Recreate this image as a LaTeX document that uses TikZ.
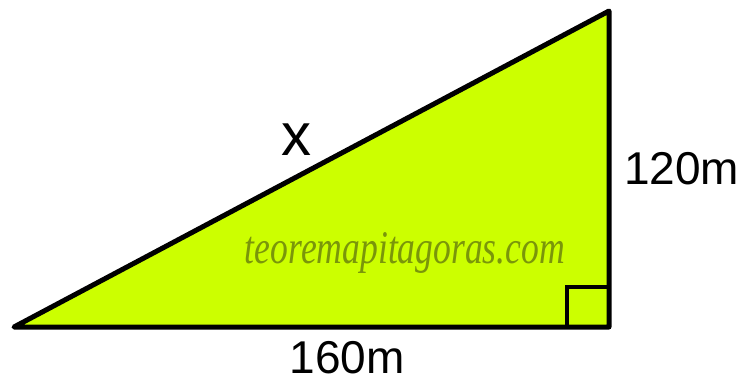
\documentclass[tikz,border=0pt]{standalone}
\usepackage{fontspec}
\setmainfont{Liberation Sans}
\newfontfamily\markfont{Liberation Serif}
\usepackage{xcolor}
\usetikzlibrary{positioning,calc}
\definecolor{limefill}{RGB}{204,255,0}
\definecolor{olivemark}{RGB}{122,150,10}

\begin{document}
\begin{tikzpicture}[
  x=1pt, y=1pt,
  side/.style={draw=black, line width=5pt, line join=round},
  lbl/.style={inner sep=0pt, font=\fontsize{46}{50}\selectfont},
  sitemark/.style={inner sep=0pt, text=olivemark},
]
  \useasboundingbox (0,0) rectangle (744,383);
  \coordinate (A) at (14,56);
  \coordinate (B) at (609,56);
  \coordinate (C) at (609,372);

  \fill[limefill] (A) -- (B) -- (C) -- cycle;
  \node[sitemark] (site) at (405,130)
    {\resizebox{320pt}{31pt}{\markfont\itshape\fontsize{20}{22}\selectfont teoremapitagoras.com}};
  \draw[side] (A) -- (B) -- (C) -- cycle;
  % right angle
  \draw[line width=4pt] ($(B)+(-42,0)$) |- ($(B)+(0,40)$);

  \node[lbl] (base) at (347,25) {160m};
  \node[lbl, anchor=west] (height) at (624,214) {120m};
  \node[inner sep=0pt, font=\fontsize{60}{62}\selectfont] (hyp) at (296,243) {x};
\end{tikzpicture}
\end{document}
